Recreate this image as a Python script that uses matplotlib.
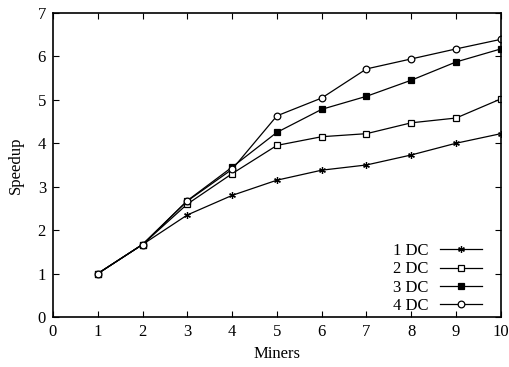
import matplotlib.pyplot as plt
import numpy as np

plt.rcParams['font.family'] = ['Liberation Serif', 'DejaVu Serif']
plt.rcParams['font.size'] = 12

miners = [1, 2, 3, 4, 5, 6, 7, 8, 9, 10]
dc1 = [1.0, 1.67, 2.35, 2.80, 3.15, 3.38, 3.50, 3.73, 4.00, 4.22]
dc2 = [1.0, 1.67, 2.60, 3.30, 3.95, 4.15, 4.22, 4.47, 4.58, 5.02]
dc3 = [1.0, 1.67, 2.68, 3.45, 4.25, 4.78, 5.08, 5.45, 5.87, 6.17]
dc4 = [1.0, 1.67, 2.67, 3.40, 4.63, 5.04, 5.71, 5.94, 6.17, 6.39]
labels = ['1 DC', '2 DC', '3 DC', '4 DC']

fig = plt.figure(figsize=(5.09, 3.67), dpi=100)
ax = fig.add_axes([0.104, 0.136, 0.88, 0.829])

ms = 4.8
ax.plot(miners, dc1, color='black', lw=0.9, marker=(6, 2, 0), ms=ms, mew=0.9, label=labels[0])
ax.plot(miners, dc2, color='black', lw=0.9, marker='s', ms=ms, mfc='white', mew=0.9, label=labels[1])
ax.plot(miners, dc3, color='black', lw=0.9, marker='s', ms=ms, mfc='black', mew=0.9, label=labels[2])
ax.plot(miners, dc4, color='black', lw=0.9, marker='o', ms=ms, mfc='white', mew=0.9, label=labels[3])

ax.set_xlim(0, 10)
ax.set_ylim(0, 7)
ax.set_xticks(np.arange(0, 11))
ax.set_yticks(np.arange(0, 8))
ax.tick_params(direction='in', top=True, right=True, length=4, width=0.8, pad=5)
for s in ax.spines.values():
    s.set_linewidth(1.2)
ax.set_xlabel('Miners')
ax.set_ylabel('Speedup', labelpad=10)

ax.legend(loc='lower right', bbox_to_anchor=(0.965, 0.0), markerfirst=False, frameon=False,
          handlelength=2.5, labelspacing=0.13, borderaxespad=0, borderpad=0.2, handletextpad=0.7)

plt.savefig('out.png', dpi=100)
